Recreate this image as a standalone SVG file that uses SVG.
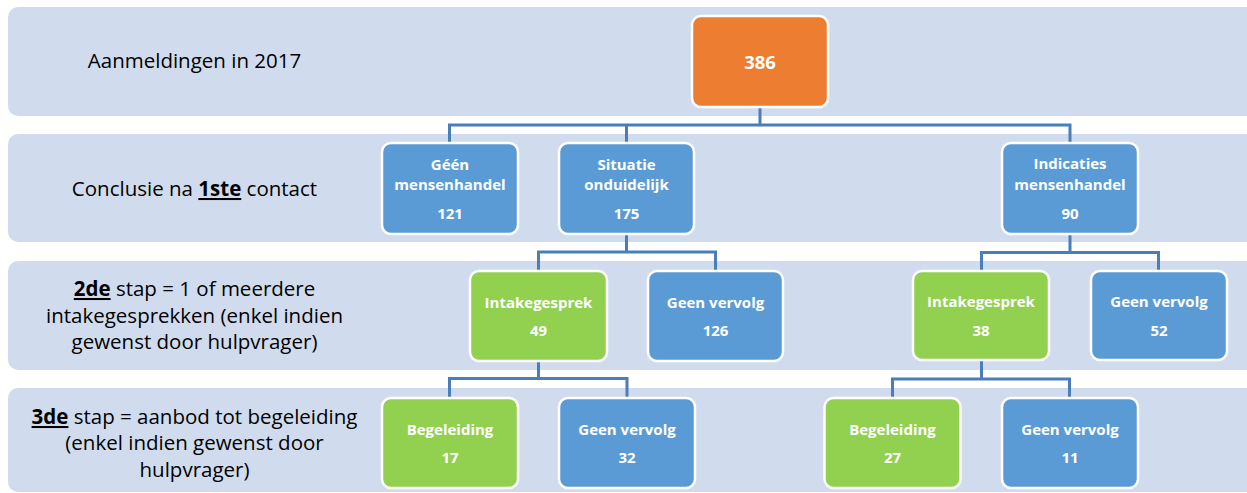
<svg xmlns="http://www.w3.org/2000/svg" width="1247" height="493" viewBox="0 0 1247 493">
<style>
.band{fill:#D0DCEE}
.box{stroke:#FFFFFF;stroke-width:2.5}
.blue{fill:#5B9BD5}
.green{fill:#92D050}
.orange{fill:#ED7D31}
.nt{font-family:"Open Sans","Liberation Sans",sans-serif;font-weight:bold;font-size:15px;fill:#FFFFFF;text-anchor:middle}
.big{font-size:18.5px}
.lab{font-family:"Open Sans","Liberation Sans",sans-serif;font-size:20.5px;fill:#000000;text-anchor:middle}
.u{font-weight:bold;text-decoration:underline}
.conn{fill:none;stroke:#4A7EBB;stroke-width:3}
</style>
<rect width="1247" height="493" fill="#FFFFFF"/>
<g id="bands">
<rect class="band" x="8" y="7" width="1248" height="109" rx="10"/>
<rect class="band" x="8" y="134" width="1248" height="108" rx="10"/>
<rect class="band" x="8" y="261" width="1248" height="109" rx="10"/>
<rect class="band" x="8" y="388" width="1248" height="104" rx="10"/>
</g>
<g id="labels">
<text class="lab" x="194.5" y="68">Aanmeldingen in 2017</text>
<text class="lab" x="194.5" y="196">Conclusie na <tspan class="u">1ste</tspan> contact</text>
<text class="lab" x="194.5" y="296"><tspan class="u">2de</tspan> stap = 1 of meerdere</text>
<text class="lab" x="194.5" y="322.5">intakegesprekken (enkel indien</text>
<text class="lab" x="194.5" y="349">gewenst door hulpvrager)</text>
<text class="lab" x="194.5" y="424"><tspan class="u">3de</tspan> stap = aanbod tot begeleiding</text>
<text class="lab" x="194.5" y="450">(enkel indien gewenst door</text>
<text class="lab" x="194.5" y="476.5">hulpvrager)</text>
</g>
<g id="connectors">
<path class="conn" d="M760,107 V125 M449.5,143 V125 H1070 V143 M626.5,125 V143"/>
<path class="conn" d="M626.5,234 V252 M538.5,271 V252 H715.5 V271"/>
<path class="conn" d="M1070,234 V252.5 M981.5,271 V252.5 H1158.5 V271"/>
<path class="conn" d="M538.5,361 V378.5 M449.5,398 V378.5 H627 V398"/>
<path class="conn" d="M981.5,360 V379 M892.5,398 V379 H1069.5 V398"/>
</g>
<g id="n386">
<rect class="box orange" x="692" y="16" width="136" height="91" rx="9"/>
<text class="nt big" x="760" y="68.5">386</text>
</g>
<g id="n121">
<rect class="box blue" x="382" y="143" width="136" height="91" rx="9"/>
<text class="nt" x="450" y="169.5">Géén</text>
<text class="nt" x="450" y="190">mensenhandel</text>
<text class="nt" x="450" y="219">121</text>
</g>
<g id="n175">
<rect class="box blue" x="559" y="143" width="135" height="91" rx="9"/>
<text class="nt" x="626.5" y="169.5">Situatie</text>
<text class="nt" x="626.5" y="190">onduidelijk</text>
<text class="nt" x="626.5" y="219">175</text>
</g>
<g id="n90">
<rect class="box blue" x="1002" y="143" width="136" height="91" rx="9"/>
<text class="nt" x="1070" y="169">Indicaties</text>
<text class="nt" x="1070" y="190">mensenhandel</text>
<text class="nt" x="1070" y="218.5">90</text>
</g>
<g id="n49">
<rect class="box green" x="470" y="271" width="137" height="90" rx="9"/>
<text class="nt" x="538.5" y="307.5">Intakegesprek</text>
<text class="nt" x="538.5" y="336">49</text>
</g>
<g id="n126">
<rect class="box blue" x="648" y="271" width="135" height="90" rx="9"/>
<text class="nt" x="715.5" y="307.5">Geen vervolg</text>
<text class="nt" x="715.5" y="336">126</text>
</g>
<g id="n38">
<rect class="box green" x="913" y="271" width="136" height="89" rx="9"/>
<text class="nt" x="981" y="307">Intakegesprek</text>
<text class="nt" x="981" y="335.5">38</text>
</g>
<g id="n52">
<rect class="box blue" x="1091" y="271" width="136" height="89" rx="9"/>
<text class="nt" x="1159" y="307">Geen vervolg</text>
<text class="nt" x="1159" y="335.5">52</text>
</g>
<g id="n17">
<rect class="box green" x="382" y="398" width="136" height="90" rx="9"/>
<text class="nt" x="450" y="434.5">Begeleiding</text>
<text class="nt" x="450" y="463">17</text>
</g>
<g id="n32">
<rect class="box blue" x="559" y="398" width="136" height="90" rx="9"/>
<text class="nt" x="627" y="434.5">Geen vervolg</text>
<text class="nt" x="627" y="463">32</text>
</g>
<g id="n27">
<rect class="box green" x="824.5" y="398" width="136" height="90" rx="9"/>
<text class="nt" x="892.5" y="434.5">Begeleiding</text>
<text class="nt" x="892.5" y="463">27</text>
</g>
<g id="n11">
<rect class="box blue" x="1002" y="398" width="136" height="90" rx="9"/>
<text class="nt" x="1070" y="434.5">Geen vervolg</text>
<text class="nt" x="1070" y="463">11</text>
</g>
</svg>
